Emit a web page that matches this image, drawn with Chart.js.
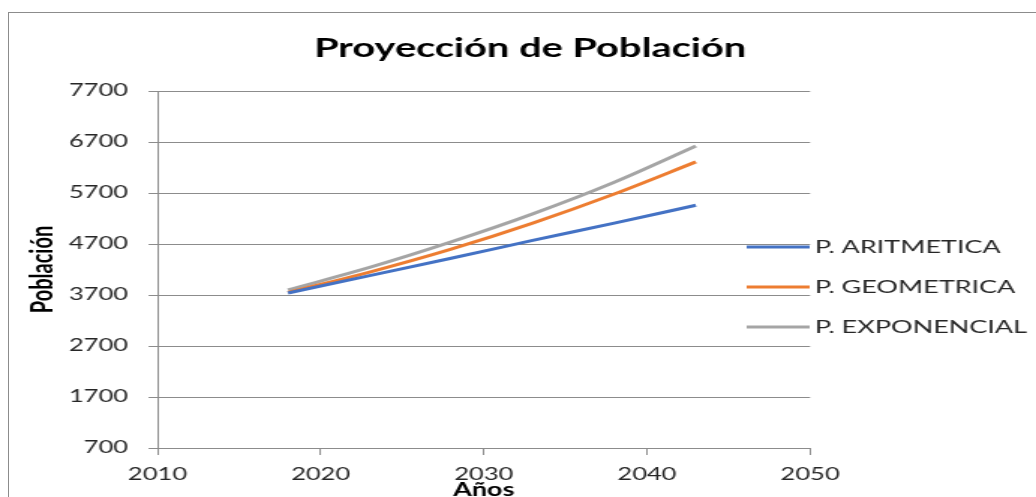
<!DOCTYPE html>
<html><head><meta charset="utf-8">
<script src="https://cdn.jsdelivr.net/npm/chart.js@4.4.0/dist/chart.umd.min.js"></script>
<style>
html,body{margin:0;padding:0;background:#fff;overflow:hidden;width:1036px;height:497px;}
#frame{position:absolute;left:8px;top:12px;width:1100px;height:600px;border:1px solid #8c8c8c;box-sizing:border-box;}
#c{position:absolute;left:0;top:0;}
</style></head><body>
<div id="frame"></div>
<canvas id="c" width="691" height="497" style="width:1036px;height:497px;"></canvas>
<script>
const chartTitle = 'Proyección de Población';
const xTitle = 'Años';
const yTitle = 'Población';
const years = [2018, 2023, 2028, 2033, 2038, 2043];
const seriesNames = ['P. ARITMETICA', 'P. GEOMETRICA', 'P. EXPONENCIAL'];
const aritmetica = [3740, 4080, 4420, 4770, 5110, 5460];
const geometrica = [3750, 4150, 4600, 5110, 5680, 6310];
const exponencial = [3800, 4240, 4740, 5290, 5910, 6620];
const xTicks = [2010, 2020, 2030, 2040, 2050];
const yTicks = [700, 1700, 2700, 3700, 4700, 5700, 6700, 7700];
const colors = ['#4472C4', '#ED7D31', '#A5A5A5'];

const seriesValues = [aritmetica, geometrica, exponencial];
const datasets = seriesNames.map((name, i) => ({
  label: name,
  data: years.map((y, j) => ({x: y, y: seriesValues[i][j]})),
  borderColor: colors[i],
  backgroundColor: colors[i],
  borderWidth: 3,
  pointRadius: 0,
  cubicInterpolationMode: 'monotone',
  fill: false
}));

const titlePlugin = {
  id: 'customTitle',
  afterDraw(chart) {
    const ctx = chart.ctx;
    ctx.save();
    ctx.fillStyle = '#000';
    ctx.font = 'bold 26.5px Lato';
    ctx.textAlign = 'center';
    ctx.textBaseline = 'middle';
    ctx.fillText(chartTitle, 353.5, 48.5);
    ctx.restore();
  }
};
const legendPlugin = {
  id: 'sideLegend',
  afterDraw(chart) {
    const ctx = chart.ctx;
    ctx.save();
    chart.data.datasets.forEach((ds, i) => {
      const y = 247 + i * 40;
      ctx.strokeStyle = ds.borderColor;
      ctx.lineWidth = 3;
      ctx.beginPath(); ctx.moveTo(498, y); ctx.lineTo(540, y); ctx.stroke();
      ctx.fillStyle = '#262626';
      ctx.font = '18px Lato';
      ctx.textAlign = 'left';
      ctx.textBaseline = 'middle';
      ctx.fillText(ds.label, 543.5, y);
    });
    ctx.restore();
  }
};

new Chart(document.getElementById('c'), {
  type: 'line',
  data: { datasets },
  options: {
    responsive: false,
    devicePixelRatio: 1,
    animation: false,
    layout: { padding: { top: 91, left: 0, right: 150.7, bottom: 0 } },
    plugins: { legend: { display: false }, title: { display: false }, tooltip: { enabled: false } },
    scales: {
      x: {
        type: 'linear', min: 2010, max: 2050,
        afterBuildTicks: s => { s.ticks = xTicks.map(v => ({value: v})); },
        afterFit: s => { s.height = 49; },
        grid: { drawOnChartArea: false, drawTicks: true, tickLength: 7, color: '#8c8c8c' },
        border: { color: '#8c8c8c', width: 1 },
        ticks: { callback: v => String(v), color: '#262626', font: { family: 'Lato', size: 17 }, padding: 9, maxRotation: 0 },
        title: { display: true, text: xTitle, color: '#000', font: { family: 'Lato', size: 18, weight: 'bold', lineHeight: 0.8 }, padding: { top: 0, bottom: 0 } }
      },
      y: {
        min: 700, max: 7700,
        afterBuildTicks: s => { s.ticks = yTicks.map(v => ({value: v})); },
        afterFit: s => { s.width = 105.05; },
        grid: { color: '#8c8c8c', drawTicks: true, tickLength: 6 },
        border: { color: '#8c8c8c', width: 1 },
        ticks: { callback: v => String(v), color: '#262626', font: { family: 'Lato', size: 17 }, padding: 13.6 },
        title: { display: true, text: yTitle, color: '#000', font: { family: 'Lato', size: 20, weight: 'bold' }, padding: { top: 16.3, bottom: 0 } }
      }
    }
  },
  plugins: [titlePlugin, legendPlugin]
});
</script>
</body></html>
